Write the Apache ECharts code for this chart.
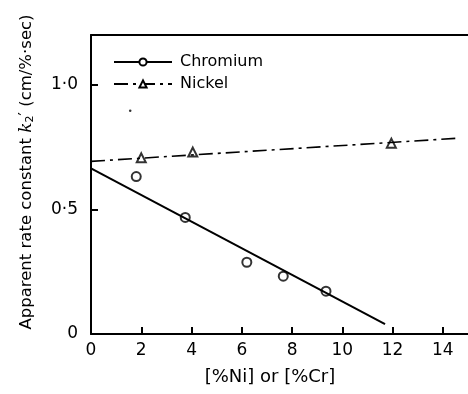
<!DOCTYPE html>
<html>
<head>
<meta charset="utf-8">
<script src="https://cdn.jsdelivr.net/npm/echarts@6/dist/echarts.min.js"></script>
<style>html,body{margin:0;padding:0;background:#fff;}#c{width:468px;height:394px;}</style>
</head>
<body>
<div id="c"></div>
<script>
// Data
var chromiumX = [1.8, 3.75, 6.2, 7.65, 9.35];
var chromiumY = [0.632, 0.468, 0.288, 0.232, 0.172];
var nickelX = [2.0, 4.05, 11.95];
var nickelY = [0.707, 0.730, 0.766];
var chromiumFitX = [0, 11.7];
var chromiumFitY = [0.665, 0.040];
var nickelFitX = [0, 14.5];
var nickelFitY = [0.693, 0.785];
var speckX = [1.56];
var speckY = [0.896];
var xTickValues = [2, 4, 6, 8, 10, 12, 14];
var xLabelValues = [0, 2, 4, 6, 8, 10, 12, 14];
var yTickValues = [0.5, 1.0];
var yLabelValues = [0, 0.5, 1.0];
var yLabelText = ['0', '0·5', '1·0'];
var seriesNames = ['Chromium', 'Nickel'];

function pairs(xs, ys) { return xs.map(function (x, i) { return [x, ys[i]]; }); }

var ink = '#000';
var font = 'DejaVu Sans';
var chart = echarts.init(document.getElementById('c'), null, { renderer: 'canvas' });
chart.setOption({
  backgroundColor: '#fff',
  animation: false,
  grid: { left: 91, right: 0, top: 35, bottom: 60, containLabel: false },
  legend: {
    orient: 'vertical',
    left: 108, top: 49,
    itemWidth: 58, itemHeight: 9, itemGap: 6,
    data: seriesNames,
    textStyle: { fontFamily: font, fontSize: 16, color: ink, padding: [0, 0, 0, 3] }
  },
  xAxis: [{
    type: 'value', min: 0, max: 15, interval: 1,
    axisLine: { show: true, lineStyle: { color: ink, width: 2 } },
    axisTick: { show: true, inside: true, length: 7, customValues: xTickValues, lineStyle: { color: ink, width: 2 } },
    axisLabel: { show: true, customValues: xLabelValues, margin: 8, fontFamily: font, fontSize: 17, color: ink },
    splitLine: { show: false }
  }, {
    type: 'value', position: 'top', min: 0, max: 15,
    axisLine: { show: true, onZero: false, lineStyle: { color: ink, width: 2 } },
    axisTick: { show: false }, axisLabel: { show: false }, splitLine: { show: false }
  }],
  yAxis: {
    type: 'value', min: 0, max: 1.2, interval: 0.1,
    axisLine: { show: true, lineStyle: { color: ink, width: 2 } },
    axisTick: { show: true, inside: true, length: 7, customValues: yTickValues, lineStyle: { color: ink, width: 2 } },
    axisLabel: {
      show: true, customValues: yLabelValues, margin: 13, fontFamily: font, fontSize: 17, color: ink,
      formatter: function (v) {
        for (var i = 0; i < yLabelValues.length; i++) if (Math.abs(v - yLabelValues[i]) < 1e-9) return yLabelText[i];
        return '';
      }
    },
    splitLine: { show: false }
  },
  graphic: [{
    type: 'text', x: 27, y: 172, rotation: Math.PI / 2,
    style: {
      text: 'Apparent rate constant {k|k}{sub|2}{p|′} (cm/%·sec)',
      fontFamily: font, fontSize: 16.5, fill: ink, align: 'center', verticalAlign: 'middle',
      rich: {
        k: { fontFamily: 'DejaVu Serif', fontStyle: 'italic', fontSize: 17, fill: ink },
        sub: { fontFamily: font, fontSize: 11, fill: ink, verticalAlign: 'bottom', padding: [6, 0, 0, 0] },
        p: { fontFamily: font, fontSize: 15, fill: ink, verticalAlign: 'top' }
      }
    }
  }, {
    type: 'text', x: 270, y: 377,
    style: { text: '[%Ni] or [%Cr]', fontFamily: font, fontSize: 18, fill: ink, align: 'center', verticalAlign: 'middle' }
  }],
  series: [{
    name: 'Chromium', type: 'line', data: pairs(chromiumFitX, chromiumFitY),
    showSymbol: false, symbol: 'emptyCircle', symbolSize: 8,
    lineStyle: { color: ink, width: 2 }, itemStyle: { color: ink, borderColor: ink, borderWidth: 1.5 }
  }, {
    name: 'Nickel', type: 'line', data: pairs(nickelFitX, nickelFitY),
    showSymbol: false, symbol: 'emptyTriangle', symbolSize: 8,
    lineStyle: { color: ink, width: 1.6, type: [14, 5, 3, 5] }, itemStyle: { color: ink, borderColor: ink, borderWidth: 1.5 }
  }, {
    name: 'Chromium data', type: 'scatter', data: pairs(chromiumX, chromiumY),
    symbol: 'emptyCircle', symbolSize: 9,
    itemStyle: { color: ink, borderColor: ink, borderWidth: 1.8 }
  }, {
    name: 'Nickel data', type: 'scatter', data: pairs(nickelX, nickelY),
    symbol: 'emptyTriangle', symbolSize: 9,
    itemStyle: { color: ink, borderColor: ink, borderWidth: 1.6 }
  }, {
    name: 'speck', type: 'scatter', data: pairs(speckX, speckY),
    symbol: 'circle', symbolSize: 2.5, itemStyle: { color: ink }
  }]
});
</script>
</body>
</html>
